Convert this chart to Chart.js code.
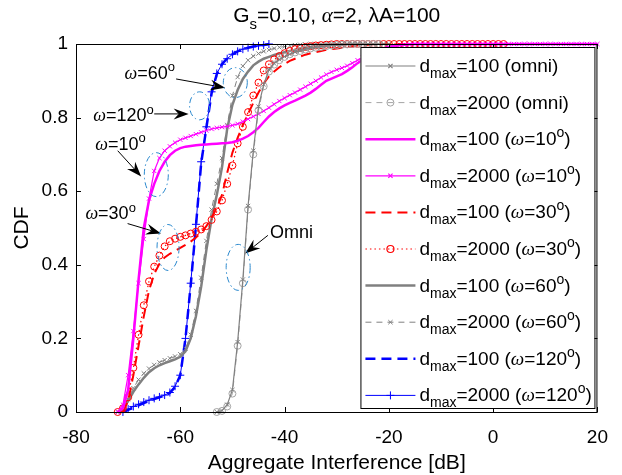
<!DOCTYPE html>
<html lang="en">
<head>
<meta charset="UTF-8">
<title>CDF of aggregate interference</title>
<script src="https://cdn.jsdelivr.net/npm/chart.js"></script>
<style>
  html, body { margin: 0; padding: 0; background: #fff; }
  #wrap { width: 622px; height: 475px; }
</style>
</head>
<body>
<div id="wrap"><canvas id="cdfChart" width="622" height="475"></canvas></div>
<script>
// x grid (dB), one value per point, shared by all curves
const dB = [-72,-71,-70,-69,-68,-67,-66,-65,-64,-63,-62,-61,-60,-59,-58,-57,-56,-55,-54,-53,
            -52,-51,-50,-49,-48,-47,-46,-45,-44,-43,-42,-41,-40,-39,-38,-37,-36,-35,-34,-33,
            -32,-31,-30,-29,-28,-27,-26,-25,-24,-23,-22,-21,-20,-19,-18,-17,-16,-15,-14,-13,
            -12,-11,-10,-9,-8,-7,-6,-5,-4,-3,-2,-1,0,1,2,3,4,5,6,7,8,9,10,11,12,13,14,15,16,17,18,19,20];

// CDF values (null = no point)
const omni100 = [null,null,null,null,null,null,null,null,null,null,null,null,null,null,null,null,null,null,null,
  0,0.004,0.02,0.06,0.19,0.36,0.56,0.71,0.83,0.89,0.93,0.947,0.958,0.966,0.972,0.978,0.982,0.986,0.989,0.991,0.993,
  0.995,0.996,0.997,0.998,0.999,1,1,1,1,1,1,1,1];
const omni2000 = [null,null,null,null,null,null,null,null,null,null,null,null,null,null,null,null,null,null,null,
  0,0.003,0.015,0.05,0.18,0.35,0.55,0.70,0.82,0.885,0.925,0.944,0.956,0.965,0.972,0.977,0.981,0.985,0.988,0.99,0.992,
  0.994,0.996,0.997,0.998,0.999,1,1,1,1,1,1];
const w10d100 = [0,0.01,0.06,0.20,0.36,0.50,0.575,0.62,0.655,0.68,0.698,0.71,0.717,0.721,0.723,0.725,0.726,0.727,0.728,0.729,
  0.73,0.731,0.733,0.737,0.743,0.75,0.76,0.772,0.788,0.803,0.815,0.825,0.833,0.84,0.846,0.853,0.86,0.868,0.878,0.889,
  0.90,0.906,0.912,0.918,0.927,0.937,0.948,0.958,0.967,0.975,0.982,0.988,0.992,0.995,0.997,0.998,0.999,1,1,1,
  1,1,1,1,1,1,1,1,1,1,1,1,1,1,1,1,1,1,1,1,1,1,1,1,1,1,1,1,1,1,1,1,1];
const w10d2000 = [0,0.02,0.10,0.22,0.35,0.47,0.58,0.655,0.69,0.71,0.722,0.732,0.74,0.745,0.75,0.755,0.76,0.765,0.769,0.772,
  0.774,0.776,0.779,0.783,0.789,0.796,0.803,0.81,0.818,0.827,0.836,0.845,0.853,0.861,0.868,0.876,0.884,0.892,0.90,0.909,
  0.917,0.924,0.93,0.935,0.941,0.948,0.956,0.963,0.97,0.977,0.983,0.987,0.991,0.994,0.996,0.998,0.999,1,1,1,
  1,1,1,1,1,1,1,1,1,1,1,1,1,1,1,1,1,1,1,1,1,1,1,1,1,1,1,1,1,1,1,1,1];
const w30d100 = [null,0,0.03,0.10,0.18,0.26,0.33,0.375,0.403,0.42,0.43,0.438,0.446,0.454,0.463,0.474,0.487,0.505,0.528,0.555,
  0.59,0.65,0.705,0.745,0.78,0.81,0.84,0.868,0.893,0.912,0.925,0.937,0.946,0.954,0.96,0.966,0.971,0.975,0.978,0.981,
  0.984,0.986,0.988,0.99,0.992,0.994,0.996,0.997,0.998,0.999,1,1,1,1,1,1,1,1];
const w30d2000 = [0,0.01,0.04,0.12,0.21,0.29,0.355,0.395,0.425,0.45,0.464,0.471,0.476,0.48,0.485,0.49,0.496,0.505,0.522,0.545,
  0.575,0.62,0.67,0.73,0.775,0.815,0.86,0.895,0.928,0.945,0.958,0.967,0.975,0.981,0.986,0.989,0.992,0.994,0.996,0.997,
  0.998,0.999,1,1,1,1,1,1,1,1,1,1,1,1,1,1,1,1,1,1,1,1,1,1,1,1,1,1,1,1,1,1,1,1,1];
const w60d100 = [0,0.01,0.03,0.055,0.075,0.093,0.108,0.119,0.127,0.133,0.138,0.143,0.15,0.165,0.20,0.26,0.34,0.44,0.525,0.59,
  0.665,0.77,0.835,0.875,0.905,0.925,0.942,0.952,0.96,0.965,0.97,0.974,0.978,0.981,0.984,0.987,0.989,0.991,0.993,0.995,
  0.996,0.997,0.998,0.999,1,1,1,1];
const w60d2000 = [0,0.012,0.035,0.065,0.088,0.105,0.118,0.128,0.135,0.141,0.146,0.151,0.157,0.172,0.21,0.275,0.365,0.465,0.55,0.62,
  0.69,0.78,0.86,0.91,0.94,0.956,0.967,0.974,0.98,0.984,0.988,0.991,0.993,0.995,0.997,0.998,0.999,1,1,1,
  1,1,1,1,1,1,1,1];
const w120d100 = [null,0,0.006,0.012,0.018,0.024,0.03,0.035,0.04,0.045,0.052,0.068,0.10,0.20,0.345,0.505,0.675,0.772,0.866,0.918,
  0.945,0.961,0.972,0.98,0.986,0.99,0.993,0.995,0.997,1];
const w120d2000 = [null,0,0.008,0.015,0.021,0.027,0.032,0.037,0.041,0.046,0.053,0.07,0.10,0.20,0.35,0.51,0.68,0.775,0.87,0.92,
  0.945,0.96,0.972,0.98,0.986,0.99,0.993,0.995,0.997,1];

const xTicks = [-80, -60, -40, -20, 0, 20];
const yTicks = [0, 0.2, 0.4, 0.6, 0.8, 1];

const FONT = '"Liberation Sans", Arial, Helvetica, sans-serif';
const SERIF = '"Liberation Serif", "Times New Roman", serif';
const GRAY = 'rgb(128,128,128)';
const LGRAY = 'rgb(165,165,165)';
const MAG = 'rgb(255,0,255)';
const RED = 'rgb(255,0,0)';
const BLUE = 'rgb(0,0,255)';

function pts(ys) {
  const out = [];
  ys.forEach((y, i) => { if (y !== null) out.push({ x: dB[i], y: y }); });
  return out;
}

function series(ys, color, width, dash, style, radius, label) {
  return {
    data: pts(ys), label: label,
    borderColor: color, borderWidth: width, borderDash: dash,
    pointStyle: style || 'circle', pointRadius: style ? radius : 0,
    pointBorderColor: color, pointBackgroundColor: 'rgba(0,0,0,0)', pointBorderWidth: 1,
    pointHoverRadius: 0, tension: 0, fill: false, clip: false
  };
}

// legend labels: [text, mode] with mode n / sub / sup / i
const legendLabels = [
  [['d','n'],['max','sub'],['=100 (omni)','n']],
  [['d','n'],['max','sub'],['=2000 (omni)','n']],
  [['d','n'],['max','sub'],['=100 (','n'],['ω','i'],['=10','n'],['o','sup'],[')','n']],
  [['d','n'],['max','sub'],['=2000 (','n'],['ω','i'],['=10','n'],['o','sup'],[')','n']],
  [['d','n'],['max','sub'],['=100 (','n'],['ω','i'],['=30','n'],['o','sup'],[')','n']],
  [['d','n'],['max','sub'],['=2000 (','n'],['ω','i'],['=30','n'],['o','sup'],[')','n']],
  [['d','n'],['max','sub'],['=100 (','n'],['ω','i'],['=60','n'],['o','sup'],[')','n']],
  [['d','n'],['max','sub'],['=2000 (','n'],['ω','i'],['=60','n'],['o','sup'],[')','n']],
  [['d','n'],['max','sub'],['=100 (','n'],['ω','i'],['=120','n'],['o','sup'],[')','n']],
  [['d','n'],['max','sub'],['=2000 (','n'],['ω','i'],['=120','n'],['o','sup'],[')','n']]
];

// callouts: text anchor, arrow tail/head and ellipse centre in data units
const callouts = [
  { text: [['ω','i'],['=60','n'],['o','sup']],  tx: -70.7, ty: 0.905, tail: [-60.8, 0.905], head: [-51.4, 0.881], ell: [-49.45, 0.895, 12, 15] },
  { text: [['ω','i'],['=120','n'],['o','sup']], tx: -76.7, ty: 0.79,  tail: [-65.0, 0.81],  head: [-58.4, 0.81],  ell: [-56.3, 0.832, 10, 14] },
  { text: [['ω','i'],['=10','n'],['o','sup']],  tx: -76.3, ty: 0.712, tail: [-72.0, 0.71],  head: [-67.5, 0.64],  ell: [-64.6, 0.645, 12, 22] },
  { text: [['ω','i'],['=30','n'],['o','sup']],  tx: -78.2, ty: 0.524, tail: [-70.1, 0.512], head: [-63.7, 0.485], ell: [-62.35, 0.447, 11, 23] },
  { text: [['Omni','n']],                        tx: -42.8, ty: 0.474, tail: [-43.2, 0.48],  head: [-47.55, 0.431], ell: [-48.9, 0.393, 12, 23] }
];

function setFont(ctx, mode, size) {
  const s = (mode === 'sub' || mode === 'sup') ? Math.round(size * 0.72) : size;
  ctx.font = (mode === 'i' ? 'italic ' + s + 'px ' + SERIF : s + 'px ' + FONT);
}
function richWidth(ctx, parts, size) {
  let w = 0;
  parts.forEach(p => { setFont(ctx, p[1], size); w += ctx.measureText(p[0]).width; });
  return w;
}
function drawRich(ctx, parts, x, y, size, align) {
  let cx = align === 'center' ? x - richWidth(ctx, parts, size) / 2 : x;
  ctx.textBaseline = 'alphabetic';
  ctx.textAlign = 'left';
  parts.forEach(p => {
    setFont(ctx, p[1], size);
    let dy = 0;
    if (p[1] === 'sub') dy = size * 0.32;
    if (p[1] === 'sup') dy = -size * 0.42;
    ctx.fillText(p[0], cx, y + dy);
    cx += ctx.measureText(p[0]).width;
  });
}

function arrow(ctx, x0, y0, x1, y1) {
  const a = Math.atan2(y1 - y0, x1 - x0);
  const L = 15, W = 5.5, N = 10;
  const bx = x1 - L * Math.cos(a), by = y1 - L * Math.sin(a);
  const nx = x1 - N * Math.cos(a), ny = y1 - N * Math.sin(a);
  ctx.beginPath();
  ctx.moveTo(x0, y0); ctx.lineTo(nx, ny);
  ctx.lineWidth = 1; ctx.strokeStyle = '#000'; ctx.setLineDash([]);
  ctx.stroke();
  ctx.beginPath();
  ctx.moveTo(x1, y1);
  ctx.lineTo(bx - W * Math.sin(a), by + W * Math.cos(a));
  ctx.lineTo(nx, ny);
  ctx.lineTo(bx + W * Math.sin(a), by - W * Math.cos(a));
  ctx.closePath();
  ctx.fillStyle = '#000';
  ctx.fill();
}

const decor = {
  id: 'decor',
  afterDraw(chart) {
    const ctx = chart.ctx, ca = chart.chartArea;
    const xs = chart.scales.x, ys = chart.scales.y;
    ctx.save();

    // box and inward ticks
    ctx.strokeStyle = '#000'; ctx.lineWidth = 1; ctx.setLineDash([]);
    ctx.strokeRect(ca.left + 0.5, ca.top + 0.5, ca.right - ca.left - 1, ca.bottom - ca.top);
    ctx.beginPath();
    xTicks.forEach(v => {
      const px = Math.round(xs.getPixelForValue(v)) + 0.5;
      ctx.moveTo(px, ca.bottom); ctx.lineTo(px, ca.bottom - 5);
      ctx.moveTo(px, ca.top); ctx.lineTo(px, ca.top + 5);
    });
    yTicks.forEach(v => {
      const py = Math.round(ys.getPixelForValue(v)) + 0.5;
      ctx.moveTo(ca.left, py); ctx.lineTo(ca.left + 5, py);
      ctx.moveTo(ca.right, py); ctx.lineTo(ca.right - 5, py);
    });
    ctx.stroke();

    // callouts
    callouts.forEach(c => {
      ctx.fillStyle = '#000';
      drawRich(ctx, c.text, xs.getPixelForValue(c.tx), ys.getPixelForValue(c.ty), 18, 'left');
      arrow(ctx, xs.getPixelForValue(c.tail[0]), ys.getPixelForValue(c.tail[1]),
                 xs.getPixelForValue(c.head[0]), ys.getPixelForValue(c.head[1]));
      ctx.beginPath();
      ctx.ellipse(xs.getPixelForValue(c.ell[0]), ys.getPixelForValue(c.ell[1]), c.ell[2], c.ell[3], 0, 0, Math.PI * 2);
      ctx.strokeStyle = 'rgb(40,135,205)'; ctx.lineWidth = 1;
      ctx.setLineDash([6, 3, 1.5, 3]);
      ctx.stroke();
      ctx.setLineDash([]);
    });

    // legend
    const L = ca.right - 237, T = ca.top + 3, R = ca.right - 3, B = ca.bottom - 4;
    ctx.fillStyle = '#fff';
    ctx.fillRect(L, T, R - L, B - T);
    ctx.strokeStyle = '#000'; ctx.lineWidth = 1;
    ctx.strokeRect(L + 0.5, T + 0.5, R - L, B - T);
    chart.data.datasets.forEach((ds, i) => {
      const y = T + 19 + i * 36.6;
      ctx.beginPath();
      ctx.moveTo(L + 5, y); ctx.lineTo(L + 55, y);
      ctx.strokeStyle = ds.borderColor; ctx.lineWidth = ds.borderWidth;
      ctx.setLineDash(ds.borderDash || []);
      ctx.stroke();
      ctx.setLineDash([]);
      if (ds.pointRadius > 0) {
        ctx.strokeStyle = ds.borderColor; ctx.fillStyle = 'rgba(0,0,0,0)';
        Chart.helpers.drawPoint(ctx, { pointStyle: ds.pointStyle, radius: ds.pointRadius, borderWidth: 1, rotation: 0 }, L + 30, y);
      }
      ctx.fillStyle = '#000';
      drawRich(ctx, legendLabels[i], L + 59, y + 6, 19, 'left');
    });

    // title and axis titles
    ctx.fillStyle = '#000';
    drawRich(ctx, [['G','n'],['s','sub'],['=0.10, ','n'],['α','i'],['=2, ','n'],['λ','n'],['A=100','n']],
             (ca.left + ca.right) / 2, 22, 21, 'center');
    ctx.font = '21px ' + FONT; ctx.textAlign = 'center'; ctx.textBaseline = 'middle';
    ctx.fillText('Aggregate Interference [dB]', (ca.left + ca.right) / 2, 463);
    ctx.translate(22, (ca.top + ca.bottom) / 2);
    ctx.rotate(-Math.PI / 2);
    ctx.fillText('CDF', 0, 0);
    ctx.restore();
  }
};

new Chart(document.getElementById('cdfChart'), {
  type: 'line',
  data: {
    datasets: [
      series(omni100,  GRAY,  1.2, [],      'crossRot', 3,   'dmax=100 (omni)'),
      series(omni2000, LGRAY, 1,   [6, 5],  'circle',   3.5, 'dmax=2000 (omni)'),
      series(w10d100,  MAG,   2.5, [],      null,       0,   'dmax=100 (w=10)'),
      series(w10d2000, MAG,   1.2, [],      'crossRot', 3,   'dmax=2000 (w=10)'),
      series(w30d100,  RED,   2,   [10, 6], null,       0,   'dmax=100 (w=30)'),
      series(w30d2000, RED,   1.2, [1.5, 3],'circle',   3.5, 'dmax=2000 (w=30)'),
      series(w60d100,  GRAY,  2.5, [],      null,       0,   'dmax=100 (w=60)'),
      series(w60d2000, GRAY,  1,   [6, 5],  'crossRot', 3,   'dmax=2000 (w=60)'),
      series(w120d100, BLUE,  2.5, [10, 6], null,       0,   'dmax=100 (w=120)'),
      series(w120d2000,BLUE,  1,   [],      'cross',    4,   'dmax=2000 (w=120)')
    ]
  },
  options: {
    responsive: false,
    animation: false,
    devicePixelRatio: 1,
    layout: { padding: { left: 0, right: 19, top: 44, bottom: 0 } },
    plugins: { legend: { display: false }, tooltip: { enabled: false } },
    scales: {
      x: {
        type: 'linear', min: -80, max: 20,
        afterFit: s => { s.height = 63; },
        afterBuildTicks: s => { s.ticks = xTicks.map(v => ({ value: v })); },
        grid: { display: false, drawTicks: false },
        border: { display: false },
        ticks: { color: '#000', font: { family: FONT, size: 19 }, padding: 14, maxRotation: 0,
                 callback: v => String(v) }
      },
      y: {
        type: 'linear', min: 0, max: 1,
        afterFit: s => { s.width = 76; },
        afterBuildTicks: s => { s.ticks = yTicks.map(v => ({ value: v })); },
        grid: { display: false, drawTicks: false },
        border: { display: false },
        ticks: { color: '#000', font: { family: FONT, size: 19 }, padding: 8,
                 callback: v => String(Math.round(v * 10) / 10) }
      }
    }
  },
  plugins: [decor]
});
</script>
</body>
</html>
